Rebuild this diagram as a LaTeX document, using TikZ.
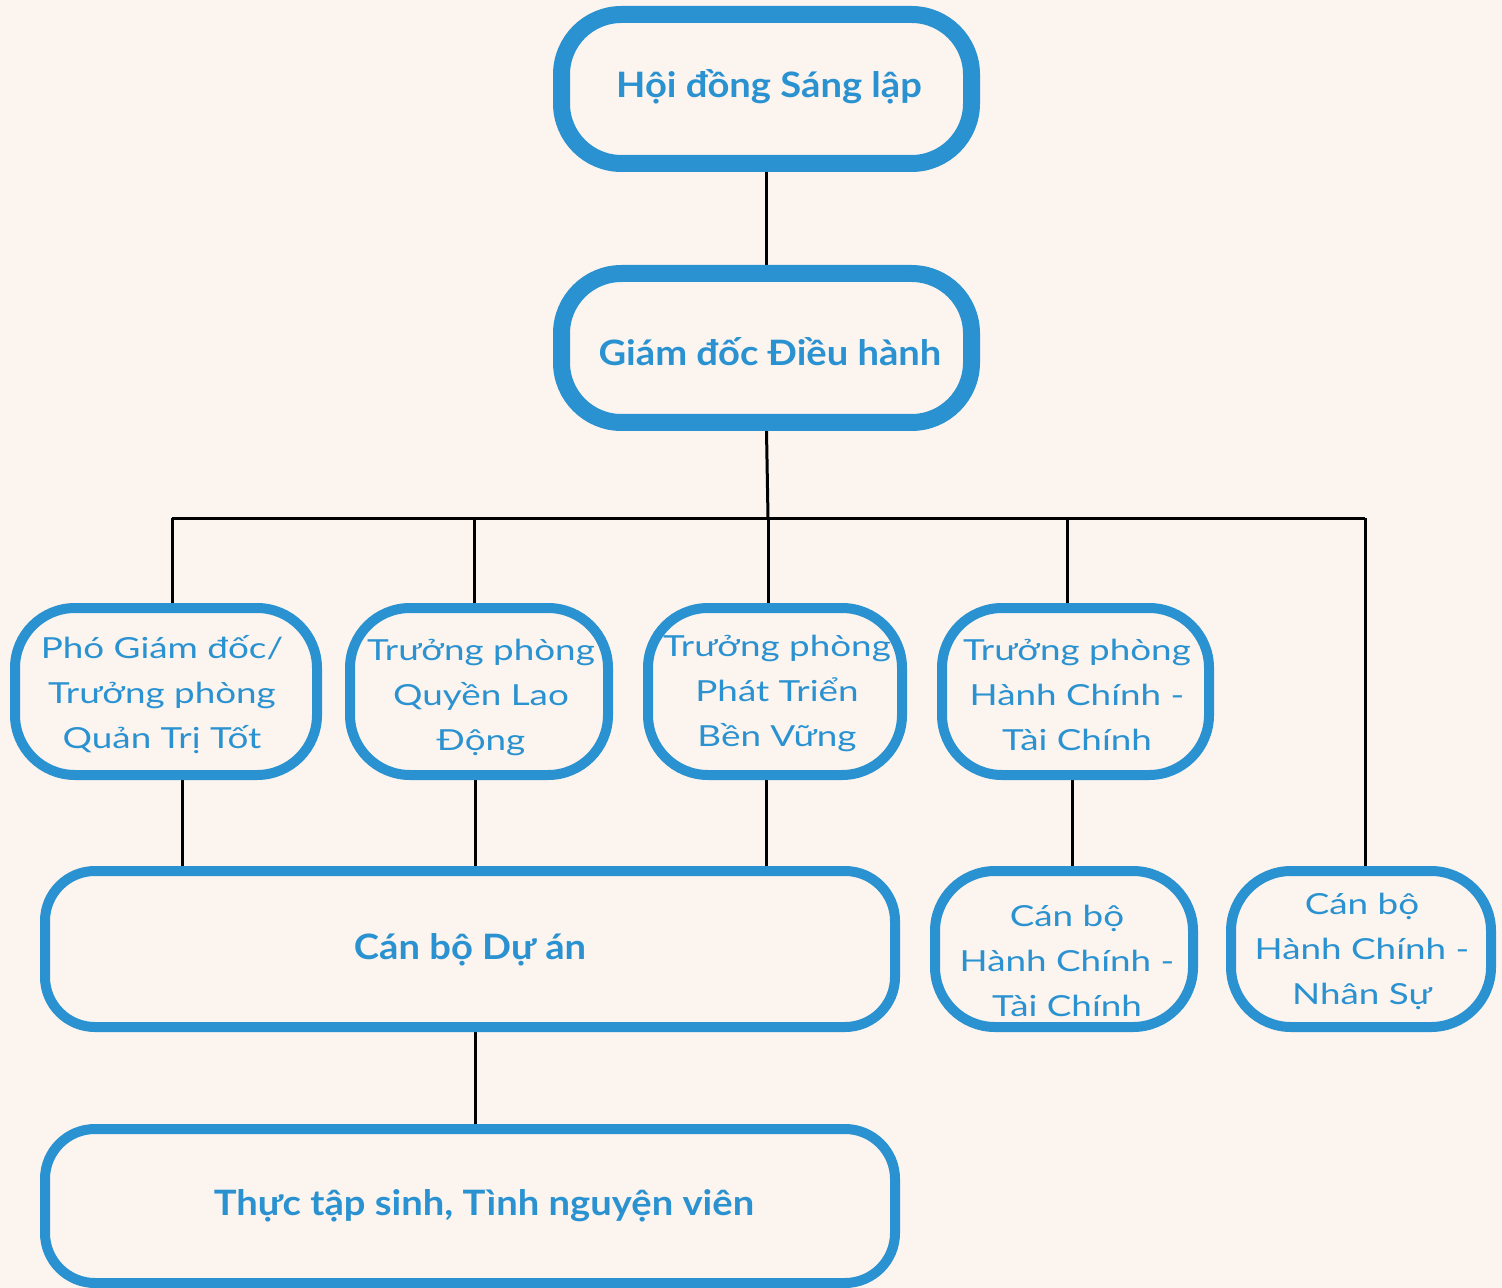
\documentclass[tikz,border=0pt]{standalone}
\usepackage{fontspec}
\setmainfont{Lato}[FakeStretch=1.27]
\newfontfamily\bldf{Lato}[FakeStretch=1.09]
\usetikzlibrary{backgrounds}
\definecolor{bg}{RGB}{252,244,238}
\definecolor{blu}{RGB}{42,146,209}
\begin{document}
\begin{tikzpicture}[x=0.5pt,y=-0.5pt,
  boxA/.style={draw=blu, fill=bg, line width=8.5pt, rounded corners=30pt, inner sep=0pt},
  boxB/.style={draw=blu, fill=bg, line width=5pt, rounded corners=30pt, inner sep=0pt},
  boxC/.style={draw=blu, fill=bg, line width=5pt, rounded corners=25pt, inner sep=0pt},
  tb/.style={text=blu, font=\bldf\fontsize{17.5}{21}\selectfont\bfseries, inner sep=0pt},
  tr/.style={text=blu, font=\fontsize{14.5}{22.5}\selectfont, align=center, inner sep=0pt},
  conn/.style={draw=black, line width=1.5pt}]
\useasboundingbox (0,0) rectangle (1502,1288);
% boxes
\node[boxA, minimum width=205pt, minimum height=74.5pt] (hd) at (766.5,89) {};
\node[boxA, minimum width=205pt, minimum height=74.5pt] (gd) at (766.5,348) {};
\node[boxB, minimum width=151pt, minimum height=83.5pt] (b1) at (166,691.5) {};
\node[boxB, minimum width=129pt, minimum height=83.5pt] (b2) at (479,691.5) {};
\node[boxB, minimum width=127pt, minimum height=83.5pt] (b3) at (775,691.5) {};
\node[boxB, minimum width=133.5pt, minimum height=83.5pt] (b4) at (1075.5,691.5) {};
\node[boxC, minimum width=425pt, minimum height=78pt] (da) at (470,949) {};
\node[boxB, minimum width=129pt, minimum height=78pt] (tc) at (1064,949) {};
\node[boxB, minimum width=130pt, minimum height=78pt] (ns) at (1361,949) {};
\node[boxC, minimum width=425pt, minimum height=77pt] (tt) at (470,1206) {};
% texts
\node[tb] (hdt) at (769,87) {Hội đồng Sáng lập};
\node[tb] (gdt) at (770,352) {Giám đốc Điều hành};
\node[tr] (b1t) at (162,695) {Phó Giám đốc/\\Trưởng phòng\\Quản Trị Tốt};
\node[tr] (b2t) at (481,697) {Trưởng phòng\\Quyền Lao\\Động};
\node[tr] (b3t) at (777,693) {Trưởng phòng\\Phát Triển\\Bền Vững};
\node[tr] (b4t) at (1077,695) {Trưởng phòng\\Hành Chính -\\Tài Chính};
\node[tb] (dat) at (470,950) {Cán bộ Dự án};
\node[tr] (tct) at (1067,961) {Cán bộ\\Hành Chính -\\Tài Chính};
\node[tr] (nst) at (1362,951) {Cán bộ\\Hành Chính -\\Nhân Sự};
\node[tb] (ttt) at (484,1206) {Thực tập sinh, Tình nguyện viên};
% bus coordinates
\coordinate (bus) at (768,518);
\coordinate (busL) at (172,518);
\coordinate (busR) at (1365,518);
\coordinate (x2) at (474,518);
\coordinate (x4) at (1067,518);
\coordinate (d1) at (182,0);
\coordinate (d2) at (475,0);
\coordinate (d3) at (766,0);
\coordinate (d4) at (1072,0);
\begin{scope}[on background layer]
\fill[bg] (0,0) rectangle (1502,1288);
\draw[conn] (hd.south) -- (gd.north);
\draw[conn] (gd.south) -- (bus);
\draw[conn] (busL) -- (busR);
\draw[conn] (busL) -- (busL |- b1.north);
\draw[conn] (x2) -- (x2 |- b2.north);
\draw[conn] (bus) -- (bus |- b3.north);
\draw[conn] (x4) -- (x4 |- b4.north);
\draw[conn] (busR) -- (busR |- ns.north);
\draw[conn] (d1 |- b1.south) -- (d1 |- da.north);
\draw[conn] (d2 |- b2.south) -- (d2 |- da.north);
\draw[conn] (d3 |- b3.south) -- (d3 |- da.north);
\draw[conn] (d4 |- b4.south) -- (d4 |- tc.north);
\draw[conn] (d2 |- da.south) -- (d2 |- tt.north);
\end{scope}
\end{tikzpicture}
\end{document}
